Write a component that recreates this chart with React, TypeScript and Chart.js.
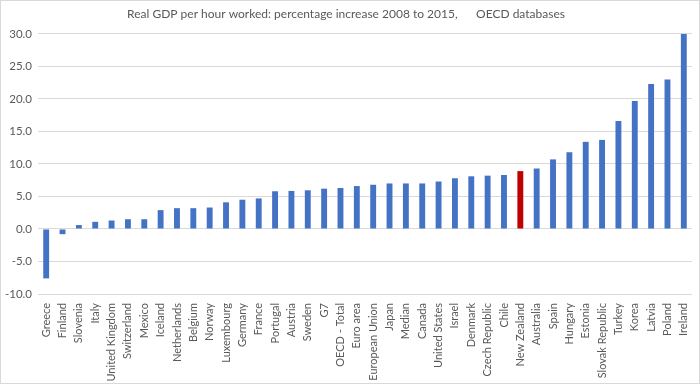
import React, { useEffect, useRef } from "react";
import { Chart, registerables } from "chart.js";

Chart.register(...registerables);

const TITLE = "Real GDP per hour worked: percentage increase 2008 to 2015,      OECD databases";

const countries = [
  "Greece", "Finland", "Slovenia", "Italy", "United Kingdom", "Switzerland", "Mexico", "Iceland",
  "Netherlands", "Belgium", "Norway", "Luxembourg", "Germany", "France", "Portugal", "Austria",
  "Sweden", "G7", "OECD - Total", "Euro area", "European Union", "Japan", "Median", "Canada",
  "United States", "Israel", "Denmark", "Czech Republic", "Chile", "New Zealand", "Australia",
  "Spain", "Hungary", "Estonia", "Slovak Republic", "Turkey", "Korea", "Latvia", "Poland", "Ireland",
];

const growth = [
  -7.6, -0.8, 0.6, 1.1, 1.3, 1.5, 1.5, 2.9,
  3.2, 3.2, 3.3, 4.1, 4.5, 4.7, 5.8, 5.85,
  5.95, 6.2, 6.3, 6.6, 6.8, 7.0, 7.0, 7.0,
  7.3, 7.8, 8.1, 8.2, 8.3, 8.9, 9.3,
  10.7, 11.8, 13.4, 13.7, 16.6, 19.7, 22.3, 23.0, 30.0,
];

const highlight = "New Zealand";
const BLUE = "#4472C4";
const RED = "#C00000";
const FONT = "Lato";

const frame = {
  id: "frame",
  afterDraw(chart: any) {
    const ctx = chart.ctx;
    ctx.save();
    ctx.strokeStyle = "#d9d9d9";
    ctx.lineWidth = 1;
    ctx.strokeRect(0.5, 0.5, chart.width - 1, chart.height - 1);
    ctx.restore();
  },
};

export default function App() {
  const ref = useRef<HTMLCanvasElement | null>(null);
  useEffect(() => {
    if (!ref.current) return;
    const chart = new Chart(ref.current, {
      type: "bar",
      data: {
        labels: countries,
        datasets: [
          {
            data: growth,
            backgroundColor: countries.map((c) => (c === highlight ? RED : BLUE)),
            barPercentage: 0.36,
            categoryPercentage: 1,
          },
        ],
      },
      options: {
        animation: false,
        responsive: false,
        layout: { padding: { left: 0, right: 8, top: 0, bottom: 0 } },
        plugins: {
          legend: { display: false },
          tooltip: { enabled: false },
          title: {
            display: true,
            text: TITLE,
            color: "#595959",
            font: { family: FONT, size: 12, weight: "normal" },
            padding: { top: 7, bottom: 12.5 },
          },
        },
        scales: {
          x: {
            grid: { display: false },
            border: { display: false },
            ticks: {
              color: "#595959",
              font: { family: FONT, size: 11 },
              minRotation: 90,
              maxRotation: 90,
              autoSkip: false,
              padding: 1,
            },
            afterFit: (s: any) => {
              s.height = 90;
            },
          },
          y: {
            min: -10,
            max: 30,
            grid: { color: "#d9d9d9", drawTicks: false },
            border: { display: false },
            ticks: {
              stepSize: 5,
              color: "#595959",
              font: { family: FONT, size: 11.5 },
              padding: 6,
              callback: (v: any) => Number(v).toFixed(1),
            },
            afterFit: (s: any) => {
              s.width = 38;
            },
          },
        },
      },
      plugins: [frame],
    });
    return () => chart.destroy();
  }, []);
  return (
    <div style={{ position: "fixed", left: 0, top: 0, width: 700, height: 384, background: "#fff" }}>
      <canvas ref={ref} width={700} height={384} style={{ width: 700, height: 384 }} />
    </div>
  );
}
